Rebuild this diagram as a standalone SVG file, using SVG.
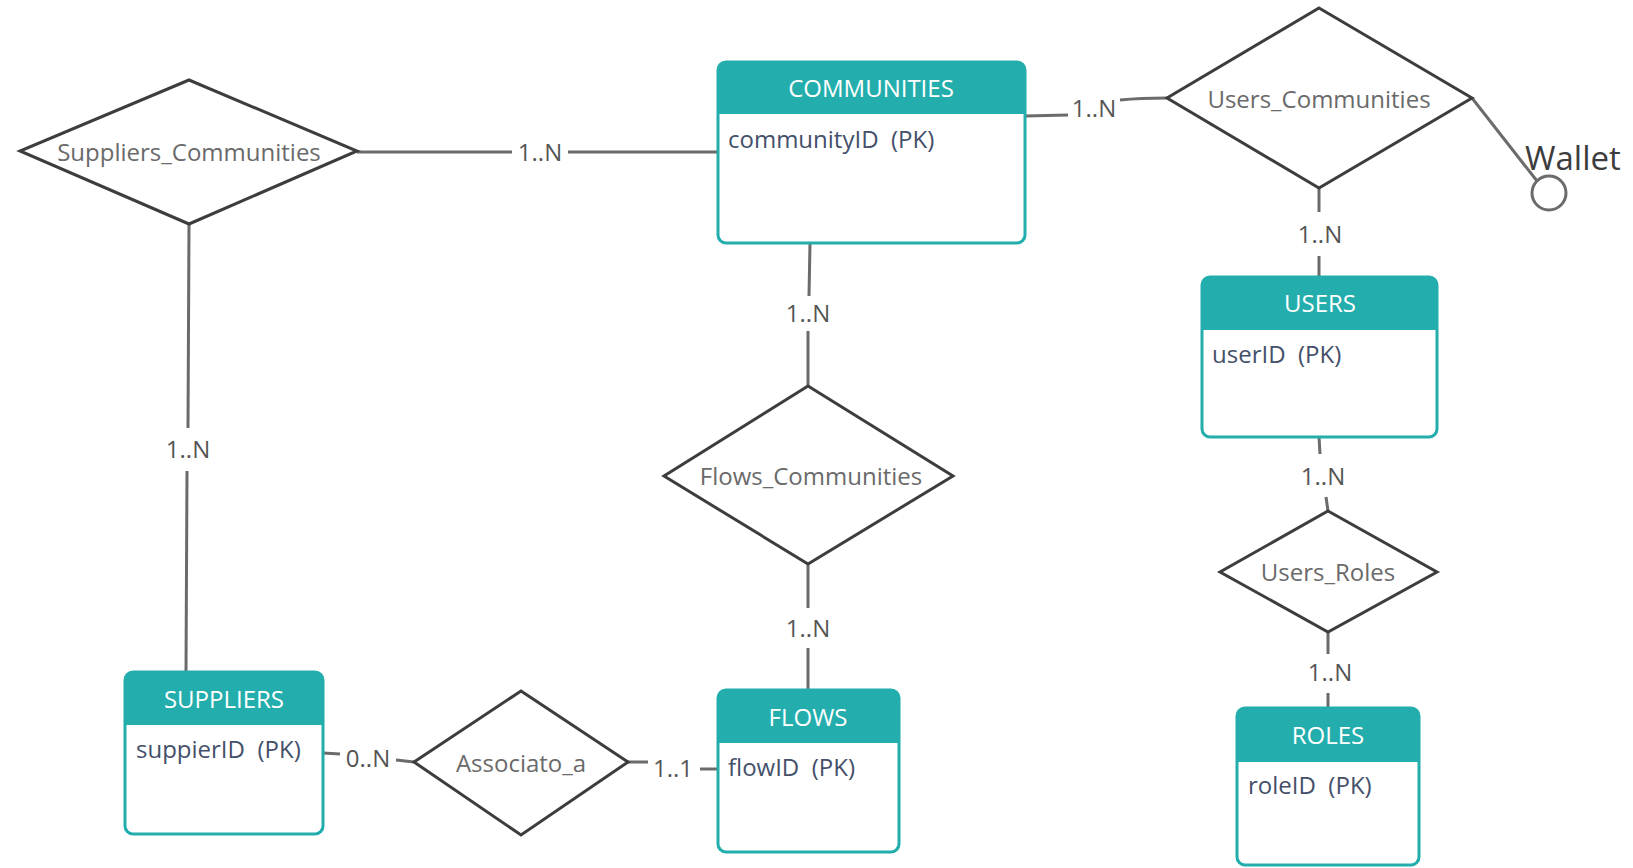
<svg xmlns="http://www.w3.org/2000/svg" width="1633" height="868" viewBox="0 0 1633 868">
  <style>
    .box { fill: #ffffff; stroke: #23aead; stroke-width: 3; }
    .head { fill: #23aead; }
    .title { font-family: "Open Sans", "Noto Sans", sans-serif; font-size: 24px; fill: #ffffff; text-anchor: middle; }
    .attr { font-family: "Open Sans", "Noto Sans", sans-serif; font-size: 24px; fill: #44506a; white-space: pre; }
    .rel { fill: #ffffff; stroke: #3d3d3d; stroke-width: 3; stroke-linejoin: miter; }
    .rel-text { font-family: "Open Sans", "Noto Sans", sans-serif; font-size: 24px; fill: #6a6a6a; text-anchor: middle; }
    .conn { fill: none; stroke: #6b6b6b; stroke-width: 3; }
    .card { font-family: "Open Sans", "Noto Sans", sans-serif; font-size: 24px; fill: #555555; text-anchor: middle; }
  </style>

  <!-- connectors -->
  <g id="connectors">
    <!-- Suppliers_Communities - COMMUNITIES -->
    <line class="conn" x1="357" y1="152" x2="512" y2="152"/>
    <line class="conn" x1="568" y1="152" x2="718" y2="152"/>
    <text class="card" x="540" y="161">1..N</text>
    <!-- Suppliers_Communities - SUPPLIERS -->
    <line class="conn" x1="189" y1="224" x2="188" y2="428"/>
    <line class="conn" x1="187" y1="471" x2="186" y2="672"/>
    <text class="card" x="188" y="458">1..N</text>
    <!-- COMMUNITIES - Users_Communities -->
    <path class="conn" d="M1025 116 L1068 115"/>
    <path class="conn" d="M1120 100 Q1140 98 1167 98"/>
    <text class="card" x="1094" y="117">1..N</text>
    <!-- Users_Communities - USERS -->
    <line class="conn" x1="1319" y1="188" x2="1319" y2="212"/>
    <line class="conn" x1="1319" y1="256" x2="1319" y2="277"/>
    <text class="card" x="1320" y="243">1..N</text>
    <!-- Users_Communities - Wallet attribute -->
    <line class="conn" x1="1472" y1="98" x2="1537" y2="181"/>
    <!-- COMMUNITIES - Flows_Communities -->
    <line class="conn" x1="810" y1="243" x2="809" y2="296"/>
    <line class="conn" x1="808" y1="331" x2="808" y2="386"/>
    <text class="card" x="808" y="322">1..N</text>
    <!-- Flows_Communities - FLOWS -->
    <line class="conn" x1="808" y1="564" x2="808" y2="608"/>
    <line class="conn" x1="808" y1="648" x2="808" y2="690"/>
    <text class="card" x="808" y="637">1..N</text>
    <!-- USERS - Users_Roles -->
    <line class="conn" x1="1319" y1="437" x2="1320" y2="454"/>
    <line class="conn" x1="1326" y1="497" x2="1328" y2="511"/>
    <text class="card" x="1323" y="485">1..N</text>
    <!-- Users_Roles - ROLES -->
    <line class="conn" x1="1328" y1="632" x2="1328" y2="654"/>
    <line class="conn" x1="1328" y1="693" x2="1328" y2="708"/>
    <text class="card" x="1330" y="681">1..N</text>
    <!-- SUPPLIERS - Associato_a -->
    <line class="conn" x1="323" y1="753" x2="340" y2="754"/>
    <line class="conn" x1="396" y1="760" x2="414" y2="762"/>
    <text class="card" x="368" y="767">0..N</text>
    <!-- Associato_a - FLOWS -->
    <line class="conn" x1="628" y1="762" x2="648" y2="762"/>
    <line class="conn" x1="700" y1="769" x2="718" y2="769"/>
    <text class="card" x="673" y="777">1..1</text>
  </g>

  <!-- relationships -->
  <g id="suppliers-communities">
    <polygon class="rel" points="189,80 357,151 189,224 20,151"/>
    <text class="rel-text" x="189" y="161">Suppliers_Communities</text>
  </g>
  <g id="users-communities">
    <polygon class="rel" points="1319,8 1472,98 1319,188 1167,98"/>
    <text class="rel-text" x="1319" y="108">Users_Communities</text>
  </g>
  <g id="flows-communities">
    <polygon class="rel" points="808,386 953,476 808,564 664,476"/>
    <text class="rel-text" x="811" y="485">Flows_Communities</text>
  </g>
  <g id="users-roles">
    <polygon class="rel" points="1328,511 1437,572 1328,632 1220,572"/>
    <text class="rel-text" x="1328" y="581">Users_Roles</text>
  </g>
  <g id="associato-a">
    <polygon class="rel" points="521,691 628,762 521,835 414,762"/>
    <text class="rel-text" x="521" y="772">Associato_a</text>
  </g>

  <!-- Wallet attribute -->
  <g id="wallet">
    <circle cx="1549" cy="193" r="17" fill="#ffffff" stroke="#6b6b6b" stroke-width="3"/>
    <text x="1525" y="170" font-family="Open Sans, Noto Sans, sans-serif" font-size="33" fill="#3d3d3d">Wallet</text>
  </g>

  <!-- entities -->
  <g id="communities">
    <rect class="box" x="718" y="62" width="307" height="181" rx="8"/>
    <path class="head" d="M718 114 V70 a8 8 0 0 1 8 -8 H1017 a8 8 0 0 1 8 8 V114 Z"/>
    <text class="title" x="871" y="97">COMMUNITIES</text>
    <text class="attr" x="728" y="148">communityID  (PK)</text>
  </g>
  <g id="users">
    <rect class="box" x="1202" y="277" width="235" height="160" rx="8"/>
    <path class="head" d="M1202 330 V285 a8 8 0 0 1 8 -8 H1429 a8 8 0 0 1 8 8 V330 Z"/>
    <text class="title" x="1320" y="312">USERS</text>
    <text class="attr" x="1212" y="363">userID  (PK)</text>
  </g>
  <g id="roles">
    <rect class="box" x="1237" y="708" width="182" height="157" rx="8"/>
    <path class="head" d="M1237 762 V716 a8 8 0 0 1 8 -8 H1411 a8 8 0 0 1 8 8 V762 Z"/>
    <text class="title" x="1328" y="744">ROLES</text>
    <text class="attr" x="1248" y="794">roleID  (PK)</text>
  </g>
  <g id="flows">
    <rect class="box" x="718" y="690" width="181" height="162" rx="8"/>
    <path class="head" d="M718 743 V698 a8 8 0 0 1 8 -8 H891 a8 8 0 0 1 8 8 V743 Z"/>
    <text class="title" x="808" y="726">FLOWS</text>
    <text class="attr" x="728" y="776">flowID  (PK)</text>
  </g>
  <g id="suppliers">
    <rect class="box" x="125" y="672" width="198" height="162" rx="8"/>
    <path class="head" d="M125 725 V680 a8 8 0 0 1 8 -8 H315 a8 8 0 0 1 8 8 V725 Z"/>
    <text class="title" x="224" y="708">SUPPLIERS</text>
    <text class="attr" x="136" y="758">suppierID  (PK)</text>
  </g>
</svg>
